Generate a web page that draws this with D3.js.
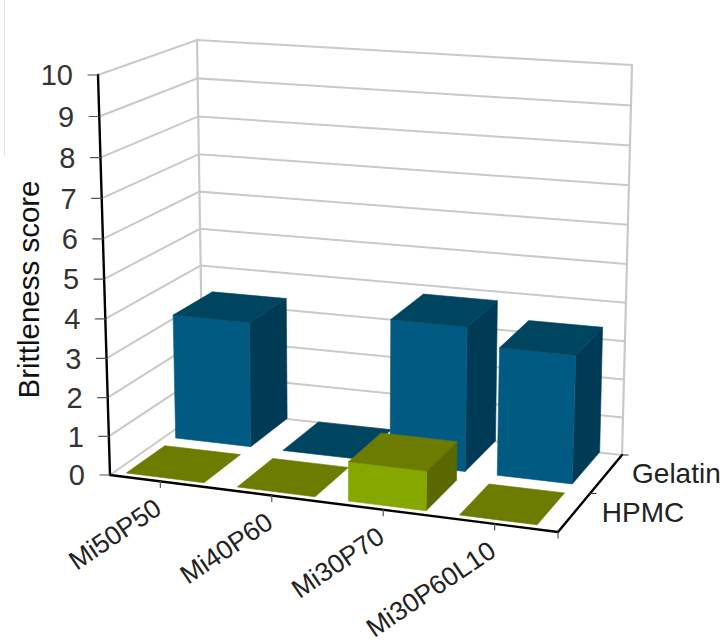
<!DOCTYPE html>
<html><head><meta charset="utf-8">
<script src="https://cdn.jsdelivr.net/npm/d3@7"></script>
<style>html,body{margin:0;padding:0;background:#fff}svg{display:block}text{font-family:"Liberation Sans",Arial,sans-serif;fill:#222}</style>
</head><body><svg id="c" width="727" height="642"></svg>
<script>
const categories = ["Mi50P50","Mi40P60","Mi30P70","Mi30P60L10"];
const seriesNames = ["HPMC","Gelatin"];
const hpmcValues = [0,0,1,0];
const gelatinValues = [3.3,0,3.75,3.3];
const valueTicks = [0,1,2,3,4,5,6,7,8,9,10];
const yTitle = "Brittleness score";
const valuesBySeries = {HPMC:hpmcValues, Gelatin:gelatinValues};
const palette = {
  HPMC:{front:"#86a600",top:"#6b7c00",side:"#596800"},
  Gelatin:{front:"#005a82",top:"#004560",side:"#003b55"}
};

// Box corners as seen on screen: [category 0/1][depth 0/1][value 0/1]
const corners = {
  c000:[110,475], c001:[98,75],
  c010:[203,410], c011:[197,40],
  c100:[558,532], c101:[572,114],
  c110:[622,455], c111:[632,65]
};
const xScale = d3.scaleBand().domain(categories).range([-0.012,0.983]).paddingInner(0.3).paddingOuter(0.15);
const zScale = d3.scaleBand().domain(seriesNames).range([0,1.06]).paddingInner(0.22).paddingOuter(0.1);
const yRaw = d3.scaleLinear().domain([0,10]).range([0,1]);
const warpK = 0.96;
const yScale = v => { const s = yRaw(v); return warpK*s/(1+(warpK-1)*s); };

function project(u,v,w){
  const l=(a,b,t)=>a+(b-a)*t;
  const f=i=>{
    const a=l(corners.c000[i],corners.c100[i],u), b=l(corners.c010[i],corners.c110[i],u);
    const c=l(corners.c001[i],corners.c101[i],u), d=l(corners.c011[i],corners.c111[i],u);
    return l(l(a,b,v),l(c,d,v),w);
  };
  return [f(0),f(1)];
}
const P=(u,v,val)=>project(u,v,yScale(val));
const svg=d3.select("#c");
const line=d3.line();
const seg=(g,pts,col,w)=>g.append("path").attr("d",line(pts)).attr("fill","none").attr("stroke",col).attr("stroke-width",w).attr("stroke-linecap","round");

// faint scan edge at the top left of the source picture
seg(svg,[[4.5,0],[4.5,156]],"#e4e4e4",1);

// walls
const grid=svg.append("g");
const gridCol="#c9c9c9";
valueTicks.forEach(t=>{
  seg(grid,[P(0,0,t),P(0,1,t),P(1,1,t)],gridCol,2);
});
seg(grid,[P(0,1,0),P(0,1,10)],gridCol,2.2);
seg(grid,[P(1,1,0),P(1,1,10)],gridCol,2.2);

// bars, back row first
const bars=svg.append("g");
[...seriesNames].reverse().forEach(s=>{
  categories.forEach((c,i)=>{
    const u0=xScale(c),u1=u0+xScale.bandwidth(),v0=zScale(s),v1=v0+zScale.bandwidth(),val=valuesBySeries[s][i];
    const col=palette[s];
    const poly=(pts,fill)=>bars.append("polygon").attr("points",pts.map(p=>p.join(",")).join(" ")).attr("fill",fill).attr("stroke",fill).attr("stroke-width",0.6);
    if(val>0){
      poly([P(u1,v0,0),P(u1,v1,0),P(u1,v1,val),P(u1,v0,val)],col.side);
      poly([P(u0,v0,0),P(u1,v0,0),P(u1,v0,val),P(u0,v0,val)],col.front);
    }
    poly([P(u0,v0,val),P(u1,v0,val),P(u1,v1,val),P(u0,v1,val)],col.top);
  });
});

// axes
const axes=svg.append("g");
seg(axes,[P(0,0,0),P(0,0,10)],"#000",2.4);
seg(axes,[P(0,0,0),P(1,0,0)],"#000",2.4);
seg(axes,[P(1,0,0),P(1,1,0)],"#000",2.4);
valueTicks.forEach(t=>{
  const p=P(0,0,t);
  seg(axes,[[p[0]-10,p[1]],p],"#555",1.2);
  axes.append("text").attr("x",p[0]-25).attr("y",p[1]).attr("dy","0.35em").attr("text-anchor","end").attr("font-size",29).style("fill","#333").text(t);
});
categories.forEach(c=>{
  const p=P(xScale(c)+xScale.bandwidth()/2,0,0);
  seg(axes,[p,[p[0],p[1]+6]],"#555",1.2);
  axes.append("text").attr("transform",`translate(${p[0]+3},${p[1]+31}) rotate(-34)`).attr("text-anchor","end").attr("font-size",26.5).text(c);
});
{ const p=P(1,0,0); seg(axes,[p,[p[0],p[1]+6]],"#555",1.2); }
[0.5,1].forEach(v=>{ const p=P(1,v,0); seg(axes,[p,[p[0]+6,p[1]]],"#333",1.2); });
seriesNames.forEach((s,i)=>{
  const v=zScale(s)+zScale.bandwidth()/2;
  const p=P(1,v,0);
  axes.append("text").attr("x",p[0]+(i?23:27)).attr("y",p[1]+(i?12:10)).attr("font-size",28).text(s);
});
svg.append("text").attr("transform","translate(39,289.5) rotate(-90)").attr("text-anchor","middle").attr("font-size",29.5).style("fill","#111").text(yTitle);
</script></body></html>
